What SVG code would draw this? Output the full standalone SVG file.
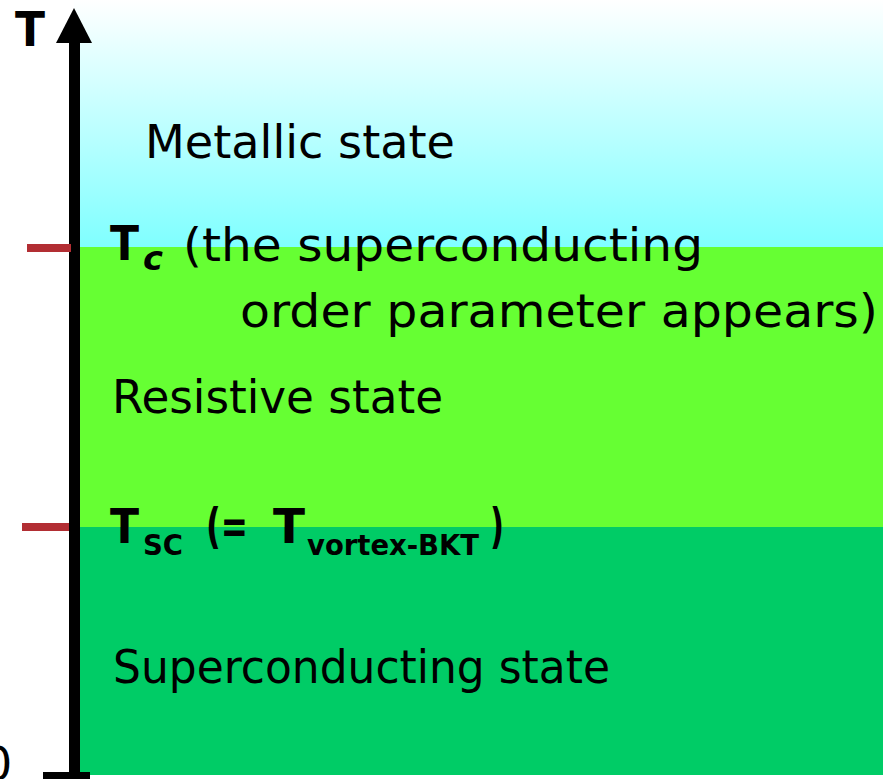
<svg xmlns="http://www.w3.org/2000/svg" width="883" height="779" viewBox="0 0 883 779">
<defs>
<linearGradient id="sky" x1="0" y1="0" x2="0" y2="1">
<stop offset="0" stop-color="#FFFFFF"/>
<stop offset="1" stop-color="#7FFFFF"/>
</linearGradient>
</defs>
<style>
text{font-family:"DejaVu Sans","Liberation Sans",sans-serif;fill:#000}
.lbl{font-size:46px}
.big{font-size:48px;font-weight:bold}
.sub{font-size:28px;font-weight:bold}
.tick{fill:#B22E33}
</style>
<rect x="0" y="0" width="883" height="779" fill="#FFFFFF"/>
<g id="regions">
<rect id="metallic" x="74" y="0" width="809" height="247" fill="url(#sky)"/>
<rect id="resistive" x="74" y="247" width="809" height="280" fill="#66FF33"/>
<rect id="superconducting" x="74" y="527" width="809" height="248" fill="#00CC66"/>
</g>
<g id="axis">
<rect x="69" y="40" width="11" height="739" fill="#000"/>
<polygon points="74,8 92,43 56,43" fill="#000"/>
<rect x="43" y="772" width="47" height="7" fill="#000"/>
<rect class="tick" x="27" y="244" width="44" height="8"/>
<rect class="tick" x="22" y="523" width="47" height="8"/>
<text x="15" y="46" class="big" textLength="30" lengthAdjust="spacingAndGlyphs">T</text>
<text x="-17" y="780" class="lbl">0</text>
</g>
<g id="labels">
<text x="145" y="158" class="lbl" textLength="310" lengthAdjust="spacingAndGlyphs">Metallic state</text>
<text x="110" y="260" class="big" textLength="29" lengthAdjust="spacingAndGlyphs">T</text>
<text x="143" y="270" style="font-size:34px;font-weight:bold;font-style:italic" textLength="20" lengthAdjust="spacingAndGlyphs">c</text>
<text x="183" y="261" class="lbl" textLength="520" lengthAdjust="spacingAndGlyphs">(the superconducting</text>
<text x="240" y="327" class="lbl" textLength="638" lengthAdjust="spacingAndGlyphs">order parameter appears)</text>
<text x="112" y="413" class="lbl" textLength="331" lengthAdjust="spacingAndGlyphs">Resistive state</text>
<text x="110" y="543" class="big" textLength="29" lengthAdjust="spacingAndGlyphs">T</text>
<text x="143" y="555" class="sub" textLength="40" lengthAdjust="spacingAndGlyphs">SC</text>
<text x="206" y="543" class="big" textLength="42" lengthAdjust="spacingAndGlyphs">(=</text>
<text x="273" y="543" class="big" textLength="32" lengthAdjust="spacingAndGlyphs">T</text>
<text x="307" y="555" class="sub" textLength="172" lengthAdjust="spacingAndGlyphs">vortex-BKT</text>
<text x="490" y="543" class="big" textLength="14" lengthAdjust="spacingAndGlyphs">)</text>
<text x="113" y="683" class="lbl" textLength="497" lengthAdjust="spacingAndGlyphs">Superconducting state</text>
</g>
</svg>
